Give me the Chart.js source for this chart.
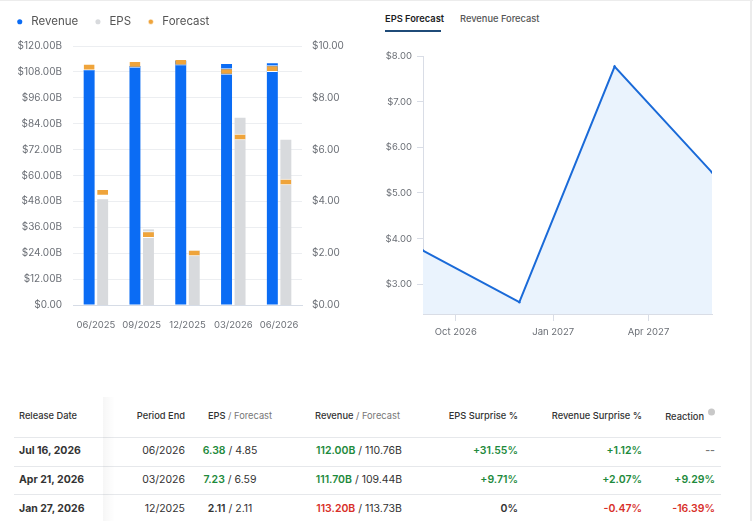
<!DOCTYPE html>
<html>
<head>
<meta charset="utf-8">
<script src="https://cdn.jsdelivr.net/npm/chart.js@4.4.1/dist/chart.umd.min.js"></script>
<style>
  body { margin: 0; background: #fff; font-family: Inter, "Noto Sans", sans-serif; width: 753px; height: 521px; overflow: hidden; position: relative; }
  .topline { position: absolute; left: 0; top: 0; width: 753px; height: 1px; background: #ececec; }
  .rightline { position: absolute; left: 750px; top: 0; width: 2px; height: 521px; background: #ececec; }
  #barWrap { position: absolute; left: 0; top: 0; width: 362px; height: 340px; }
  #lineWrap { position: absolute; left: 375px; top: 40px; width: 375px; height: 300px; }
  .tab { position: absolute; top: 13px; font-size: 9.3px; }
  .tab.on { left: 385px; font-weight: 600; color: #1d1d1f; }
  .tab.off { left: 460px; font-weight: 500; color: #555; }
  .tabline { position: absolute; left: 385px; top: 30px; width: 56px; height: 2px; background: #1f4b78; }
  #tbl { position: absolute; left: 0; top: 395px; width: 753px; height: 126px; }
  .c { position: absolute; white-space: nowrap; transform: translateY(-50%); }
  .h { font-size: 9.3px; font-weight: 500; color: #333; }
  .d { font-size: 10.5px; color: #333; }
  .sep { position: absolute; left: 14px; width: 707px; height: 1px; background: #e6e8eb; }
  .shade { position: absolute; left: 103px; top: 2px; width: 12px; height: 124px; background: linear-gradient(to right, rgba(0,0,0,0.035), rgba(0,0,0,0)); }
  .g { color: #1e8a3c; }
  .r { color: #d8302a; }
  .lt { color: #777; font-weight: 400; }
  .info { display: inline-block; width: 7px; height: 7px; border-radius: 50%; background: #c8c8c8; margin-left: 4px; vertical-align: 4px; }
</style>
</head>
<body>
<div class="topline"></div>
<div class="rightline"></div>
<div id="barWrap"><canvas id="barChart"></canvas></div>

<div class="tab on">EPS Forecast</div>
<div class="tab off">Revenue Forecast</div>
<div class="tabline"></div>
<div id="lineWrap"><canvas id="lineChart"></canvas></div>

<div id="tbl"></div>

<script>
// left chart: quarterly results
var periods = ['06/2025', '09/2025', '12/2025', '03/2026', '06/2026'];
var revenue = [108.9, 110.7, 113.20, 111.70, 112.00];        // $B
var revenueForecast = [111.5, 112.7, 113.73, 109.44, 110.76]; // $B
var eps = [4.08, 2.92, 2.11, 7.23, 6.38];
var epsForecast = [4.45, 2.82, 2.11, 6.59, 4.85];

// right chart: EPS forecast
var fcDates = ['2026-08-31', '2026-11-30', '2027-02-28', '2027-05-31'];
var fcEps = [3.74, 2.61, 7.77, 5.45];
var fcTickDates = ['2026-10-01', '2027-01-01', '2027-04-01'];
var fcTickLabels = ['Oct 2026', 'Jan 2027', 'Apr 2027'];
var fcYTicks = [3, 4, 5, 6, 7, 8];

// table
var relDate = ['Jul 16, 2026', 'Apr 21, 2026', 'Jan 27, 2026'];
var perEnd = ['06/2026', '03/2026', '12/2025'];
var tEps = ['6.38', '7.23', '2.11'];
var tEpsF = ['4.85', '6.59', '2.11'];
var tRev = ['112.00B', '111.70B', '113.20B'];
var tRevF = ['110.76B', '109.44B', '113.73B'];
var epsSurp = ['+31.55%', '+9.71%', '0%'];
var revSurp = ['+1.12%', '+2.07%', '-0.47%'];
var reaction = ['--', '+9.29%', '-16.39%'];

var BLUE = '#0b6cf4';
var GREY = '#d8dadd';
var ORANGE = '#efa43b';
var tickColor = '#6b6f76';

function day(s) { return Date.parse(s) / 86400000; }

// forecast markers as thin floating bars
var markRev = 2.8, markEps = 0.23;
var revMarks = revenueForecast.map(function(f){ return [f - markRev, f + 0.3]; });
var epsMarks = epsForecast.map(function(f){ return [f - markEps, f + 0.025]; });

var legendHeight = {
  id: 'legendHeight',
  beforeInit: function(chart) {
    var fit = chart.legend.fit;
    chart.legend.fit = function() {
      fit.bind(chart.legend)();
      this.height = 44;
    };
  }
};

new Chart(document.getElementById('barChart'), {
  type: 'bar',
  data: {
    labels: periods,
    datasets: [
      { label: 'Revenue', data: revenue, yAxisID: 'y', stack: 'rev', order: 1,
        backgroundColor: BLUE },
      { label: 'EPS', data: eps, yAxisID: 'y1', stack: 'eps', order: 1,
        backgroundColor: GREY },
      { label: 'Forecast', data: revMarks, yAxisID: 'y', stack: 'rev', order: 0,
        backgroundColor: ORANGE, borderColor: '#fff',
        borderWidth: {top: 1, bottom: 1, left: 0, right: 0}, borderSkipped: false },
      { label: 'Forecast', data: epsMarks, yAxisID: 'y1', stack: 'eps', order: 0,
        backgroundColor: ORANGE, borderColor: '#fff',
        borderWidth: {top: 1, bottom: 1, left: 0, right: 0}, borderSkipped: false }
    ]
  },
  options: {
    responsive: true,
    maintainAspectRatio: false,
    animation: false,
    categoryPercentage: 0.59,
    barPercentage: 0.81,
    layout: { padding: { left: 0, right: 0, top: 2, bottom: 0 } },
    plugins: {
      legend: {
        align: 'start',
        labels: {
          usePointStyle: true, pointStyle: 'circle',
          boxWidth: 14, boxHeight: 3.6, padding: 14,
          color: '#555', font: { family: 'Inter', size: 11.5 },
          filter: function(item) { return item.datasetIndex !== 3; },
          sort: function(a, b) { return a.datasetIndex - b.datasetIndex; }
        }
      },
      tooltip: { enabled: false }
    },
    scales: {
      x: {
        stacked: true,
        grid: { display: false },
        border: { color: '#d6dce6' },
        ticks: { color: tickColor, font: { family: 'Inter', size: 9.5 }, padding: 6,
          maxRotation: 0, minRotation: 0, autoSkip: false },
        afterFit: function(s) { s.height = 35; }
      },
      y: {
        stacked: false, position: 'left', min: 0, max: 120,
        grid: { color: '#eceef1', drawTicks: false },
        border: { display: false },
        ticks: { stepSize: 12, padding: 11, color: tickColor, font: { family: 'Inter', size: 10 },
          callback: function(v) { return v === 0 ? '$0.00' : '$' + v.toFixed(2) + 'B'; } },
        afterFit: function(s) { s.width = 73; }
      },
      y1: {
        stacked: false, position: 'right', min: 0, max: 10,
        grid: { display: false, drawTicks: false },
        border: { display: false },
        ticks: { stepSize: 2, padding: 10, color: tickColor, font: { family: 'Inter', size: 10 },
          callback: function(v) { return '$' + v.toFixed(2); } },
        afterFit: function(s) { s.width = 60; }
      }
    }
  },
  plugins: [legendHeight]
});

new Chart(document.getElementById('lineChart'), {
  type: 'line',
  data: {
    datasets: [{
      data: fcDates.map(function(d, i){ return { x: day(d), y: fcEps[i] }; }),
      borderColor: '#1a6ad8', borderWidth: 2,
      backgroundColor: '#eaf3fd', fill: 'start',
      pointRadius: 1.2, pointBackgroundColor: '#1a6ad8', pointBorderWidth: 0,
      tension: 0
    }]
  },
  options: {
    responsive: true,
    maintainAspectRatio: false,
    animation: false,
    layout: { padding: { top: 16, right: 38, left: 0, bottom: 0 } },
    plugins: { legend: { display: false }, tooltip: { enabled: false } },
    scales: {
      x: {
        type: 'linear', min: day(fcDates[0]), max: day(fcDates[fcDates.length - 1]),
        afterBuildTicks: function(s) { s.ticks = fcTickDates.map(function(d){ return { value: day(d) }; }); },
        grid: { drawOnChartArea: false, tickLength: 7, color: '#d9dde6' },
        border: { color: '#d9dde6' },
        ticks: { color: tickColor, font: { family: 'Inter', size: 9.5 }, padding: 5,
          callback: function(v, i) { return fcTickLabels[i]; } },
        afterFit: function(s) { s.height = 26; }
      },
      y: {
        min: 2.35, max: 8,
        afterBuildTicks: function(s) { s.ticks = fcYTicks.map(function(v){ return { value: v }; }); },
        grid: { drawOnChartArea: false, tickLength: 6, color: '#d9dde6' },
        border: { color: '#d9dde6' },
        ticks: { color: tickColor, font: { family: 'Inter', size: 9.5 }, padding: 5,
          callback: function(v) { return '$' + v.toFixed(2); } },
        afterFit: function(s) { s.width = 48; }
      }
    }
  }
});

// table
var tbl = document.getElementById('tbl');
function cell(html, cls, y, pos) {
  var el = document.createElement('div');
  el.className = 'c ' + cls;
  el.innerHTML = html;
  el.style.top = y + 'px';
  if (pos.left !== undefined) el.style.left = pos.left + 'px';
  if (pos.right !== undefined) el.style.right = (753 - pos.right) + 'px';
  if (pos.center !== undefined) { el.style.left = pos.center + 'px'; el.style.transform = 'translate(-50%,-50%)'; }
  tbl.appendChild(el);
}
function col(v) { return v.charAt(0) === '+' ? 'g' : (v.charAt(0) === '-' && v !== '--' ? 'r' : ''); }

var hy = 20;
cell('Release Date', 'h', hy, { left: 19 });
cell('Period End', 'h', hy, { right: 185 });
cell('EPS <span class="lt">/ Forecast</span>', 'h', hy, { left: 208 });
cell('Revenue <span class="lt">/ Forecast</span>', 'h', hy, { left: 315 });
cell('EPS Surprise %', 'h', hy, { right: 518 });
cell('Revenue Surprise %', 'h', hy, { right: 642 });
cell('Reaction<span class="info"></span>', 'h', hy, { right: 715 });

[42, 71, 99].forEach(function(y) {
  var s = document.createElement('div'); s.className = 'sep'; s.style.top = y + 'px'; tbl.appendChild(s);
});
var sh = document.createElement('div'); sh.className = 'shade'; tbl.appendChild(sh);

var rowY = [55, 84, 113];
for (var i = 0; i < relDate.length; i++) {
  var y = rowY[i];
  var epsCls = parseFloat(tEps[i]) > parseFloat(tEpsF[i]) ? 'g' : (parseFloat(tEps[i]) < parseFloat(tEpsF[i]) ? 'r' : '');
  var revCls = parseFloat(tRev[i]) > parseFloat(tRevF[i]) ? 'g' : 'r';
  cell('<b>' + relDate[i] + '</b>', 'd', y, { left: 19 });
  cell(perEnd[i], 'd', y, { right: 185 });
  cell('<span class="' + epsCls + '" style="font-weight:600">' + tEps[i] + '</span> / ' + tEpsF[i], 'd', y, { center: 230 });
  cell('<span class="' + revCls + '" style="font-weight:600">' + tRev[i] + '</span> / ' + tRevF[i], 'd', y, { center: 359 });
  cell('<span style="font-weight:600" class="' + col(epsSurp[i]) + '">' + epsSurp[i] + '</span>', 'd', y, { right: 518 });
  cell('<span style="font-weight:600" class="' + col(revSurp[i]) + '">' + revSurp[i] + '</span>', 'd', y, { right: 642 });
  cell('<span style="font-weight:600" class="' + (reaction[i] === '--' ? 'lt' : col(reaction[i])) + '">' + reaction[i] + '</span>', 'd', y, { right: 715 });
}
</script>
</body>
</html>
